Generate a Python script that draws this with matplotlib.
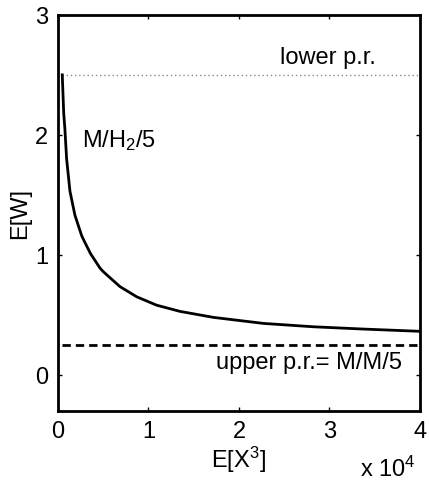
import matplotlib
matplotlib.use("Agg")
import matplotlib.pyplot as plt

plt.rcParams['font.family'] = ['Liberation Sans', 'DejaVu Sans']
plt.rcParams['mathtext.fontset'] = 'custom'
plt.rcParams['mathtext.rm'] = 'Liberation Sans'
plt.rcParams['mathtext.it'] = 'Liberation Sans'

# data
ex3 = [480, 640, 770, 960, 1330, 1880, 2620, 3000, 3600, 4640, 5000, 6850, 8700,
       10900, 13500, 17200, 22700, 28200, 33700, 40000]
ew = [2.5, 2.18, 2.05, 1.80, 1.53, 1.33, 1.16, 1.10, 1.01, 0.89, 0.86, 0.735, 0.65,
      0.58, 0.528, 0.478, 0.428, 0.40, 0.381, 0.362]
lower_pr = 2.5
upper_pr = 0.25
x_ticks = [0, 10000, 20000, 30000, 40000]
x_tick_labels = ['0', '1', '2', '3', '4']
y_ticks = [0, 1, 2, 3]
y_tick_labels = ['0', '1', '2', '3']

fs = 17
fig = plt.figure(figsize=(4.29, 4.81), dpi=100)
ax = fig.add_axes([0.135, 0.144, 0.844, 0.823])

ax.plot([ex3[0], x_ticks[-1]], [lower_pr, lower_pr], color='#888888', lw=1.0,
        linestyle=(0, (1, 2)))
ax.plot([ex3[0], x_ticks[-1]], [upper_pr, upper_pr], color='black', lw=2.0,
        linestyle=(0, (3, 1.8)))
ax.plot(ex3, ew, color='black', lw=2.0)

ax.set_xlim(0, 40000)
ax.set_ylim(-0.3, 3)
ax.set_xticks(x_ticks)
ax.set_xticklabels(x_tick_labels)
ax.set_yticks(y_ticks)
ax.set_yticklabels(y_tick_labels)
ax.tick_params(direction='in', length=3, width=1, top=True, right=True,
               labelsize=fs, pad=7)
for s in ax.spines.values():
    s.set_linewidth(2.0)

ax.set_xlabel('E[X$^3$]', fontsize=fs, labelpad=1)
ax.set_ylabel('E[W]', fontsize=fs, labelpad=3)

ax.text(24500, 2.65, 'lower p.r.', fontsize=fs, va='center', ha='left')
ax.text(2650, 1.96, 'M/H$_2$/5', fontsize=fs, va='center', ha='left')
ax.text(17500, 0.105, 'upper p.r.= M/M/5', fontsize=fs, va='center', ha='left')
fig.text(0.97, 0.025, 'x 10$^4$', fontsize=fs, ha='right', va='center')

fig.savefig('out.png', dpi=100, facecolor='white')
